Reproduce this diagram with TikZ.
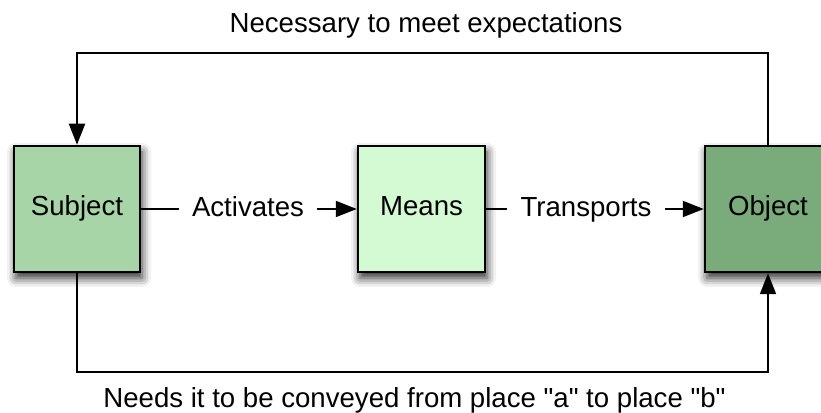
\documentclass[tikz,border=0pt]{standalone}
\usepackage{fontspec}
\setmainfont{Liberation Sans}[Ligatures=TeXOff]
\usetikzlibrary{arrows.meta,shadows.blur}
\definecolor{subjfill}{RGB}{168,213,168}
\definecolor{meansfill}{RGB}{212,250,212}
\definecolor{objfill}{RGB}{122,171,123}
\tikzset{
  box/.style={draw=black, line width=2.5pt, minimum width=126pt, minimum height=126pt,
    inner sep=0pt, font=\fontsize{27.6}{32}\selectfont, text height=20pt, text depth=6pt,
    blur shadow={shadow xshift=2pt, shadow yshift=-6pt, shadow blur radius=9pt, shadow opacity=85}},
  conn/.style={line width=2pt, draw=black},
  arr/.style={conn, -{Triangle[length=21pt,width=16pt]}},
  lbl/.style={font=\fontsize{27.6}{32}\selectfont, inner xsep=13pt, inner ysep=0pt, anchor=base},
  captxt/.style={font=\fontsize{27.6}{32}\selectfont, inner sep=0pt, anchor=base}
}
\begin{document}
\begin{tikzpicture}[x=1pt,y=1pt]
\useasboundingbox (0,0) rectangle (821,412);
\clip (0,0) rectangle (821,412);
\node[box, fill=subjfill] (subject) at (77,203) {Subject};
\node[box, fill=meansfill, minimum width=127pt] (means) at (421.5,203) {Means};
\node[box, fill=objfill] (object) at (768,203) {Object};
\node[lbl] (act) at (248,195) {Activates};
\node[lbl] (trans) at (586,195) {Transports};
\node[captxt] (toplbl) at (426,379) {Necessary to meet expectations};
\node[captxt] (botlbl) at (414.5,5) {Needs it to be conveyed from place "a" to place "b"};
\coordinate (topy) at (0,359);
\coordinate (boty) at (0,40);
\draw[conn] (subject.east) -- (subject.east -| act.west);
\draw[arr] (act.east |- means.west) -- (means.west);
\draw[conn] (means.east) -- (means.east -| trans.west);
\draw[arr] (trans.east |- object.west) -- (object.west);
\draw[arr] (object.north) -- (object.north |- topy) -- (subject.north |- topy) -- (subject.north);
\draw[arr] (subject.south) -- (subject.south |- boty) -- (object.south |- boty) -- (object.south);
\end{tikzpicture}
\end{document}
